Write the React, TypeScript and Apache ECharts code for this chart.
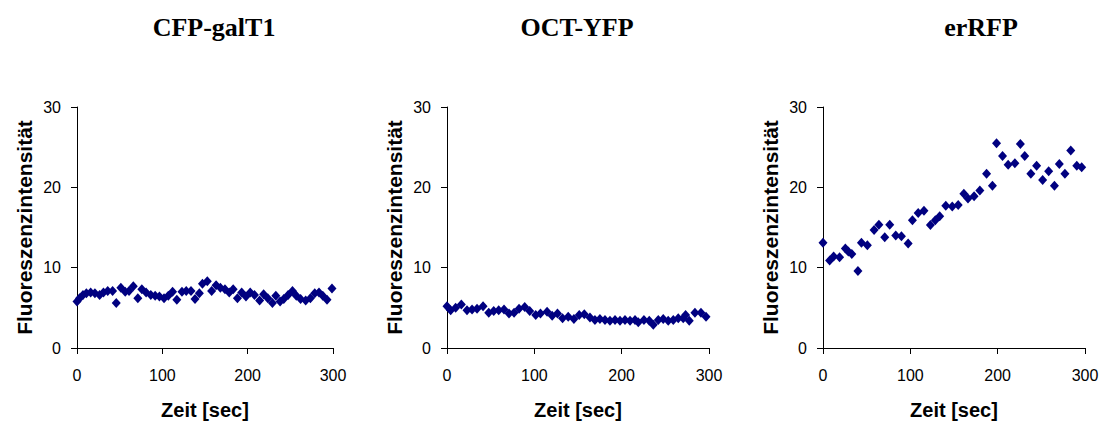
import React, { useEffect, useRef } from "react";
import * as echarts from "echarts";

const titles = ["CFP-galT1", "OCT-YFP", "erRFP"];
const xName = "Zeit [sec]";
const yName = "Fluoreszenzintensität";

const cfpX = [0, 3, 7, 11, 16, 21, 26.5, 31, 36, 41.7, 46, 51.4, 56.5, 61, 66, 71.3, 76, 81, 86.5, 91.6, 96.6, 102, 107, 112, 117, 123, 128, 133.6, 138.3, 143.4, 147, 152.7, 157.8, 163, 168, 173.4, 178.4, 183, 188, 193, 198, 203, 208, 214, 218.7, 223.6, 229, 233, 238, 242.3, 247.4, 252.5, 257, 262, 268, 273.5, 278.6, 283.6, 288, 293, 298.8];
const cfpY = [5.8, 6.2, 6.6, 6.8, 6.9, 6.8, 6.6, 6.9, 7.1, 7.1, 5.6, 7.5, 7.0, 7.1, 7.7, 6.2, 7.3, 6.9, 6.6, 6.5, 6.4, 6.2, 6.5, 7.0, 6.0, 7.0, 7.1, 7.1, 6.1, 6.8, 8.0, 8.3, 7.1, 7.8, 7.5, 7.3, 6.9, 7.3, 6.2, 6.9, 6.4, 6.9, 6.6, 5.9, 6.7, 6.2, 5.6, 6.5, 5.8, 6.1, 6.6, 7.1, 6.5, 6.1, 5.9, 6.2, 6.8, 6.9, 6.5, 6.0, 7.4];

const octX = [0, 4.2, 9.9, 16.4, 22.9, 28.7, 34.4, 41.3, 47.8, 53.5, 59.2, 65.3, 71, 76.8, 82.5, 89, 94.7, 101.6, 107, 114.6, 120.4, 126.5, 132.3, 138.8, 145.3, 151.4, 157.2, 163.7, 169.4, 175.1, 180.9, 186.6, 192.4, 198.1, 203.8, 209.6, 215.3, 219, 225.5, 231.6, 236.2, 241.9, 247.6, 253.3, 259.1, 264.8, 270.5, 273.2, 277.4, 283.9, 290.8, 296.6];
const octY = [5.2, 4.7, 5.0, 5.4, 4.7, 4.8, 4.9, 5.2, 4.4, 4.6, 4.7, 4.8, 4.3, 4.4, 4.9, 5.1, 4.6, 4.1, 4.3, 4.5, 4.0, 4.3, 3.7, 3.9, 3.6, 4.1, 4.2, 3.8, 3.5, 3.6, 3.5, 3.4, 3.5, 3.4, 3.5, 3.4, 3.5, 3.2, 3.5, 3.4, 2.9, 3.5, 3.6, 3.4, 3.5, 3.7, 3.7, 4.1, 3.4, 4.4, 4.4, 3.9];

const erX = [0, 7.6, 12.2, 19, 25.6, 29, 33, 40, 44, 50.8, 58.5, 64, 70.7, 76.4, 83.3, 89.8, 97.5, 102.4, 109, 115.6, 123, 128.6, 133.6, 140.6, 148, 154.8, 161.3, 166, 173, 179.6, 187.3, 194, 198.7, 205.6, 212, 219.7, 226, 231, 238, 244.6, 251.5, 258.4, 265, 270.6, 277, 283.7, 290.6, 296.2];
const erY = [13.1, 10.9, 11.4, 11.3, 12.4, 12.0, 11.7, 9.6, 13.1, 12.8, 14.7, 15.35, 13.8, 15.35, 14.0, 13.9, 13.0, 15.9, 16.8, 17.1, 15.3, 15.9, 16.4, 17.7, 17.6, 17.8, 19.2, 18.6, 18.9, 19.6, 21.7, 20.2, 25.5, 23.9, 22.8, 23.0, 25.4, 23.9, 21.7, 22.7, 20.9, 22.0, 20.2, 22.9, 21.7, 24.6, 22.7, 22.5];

const yMin = 0;
const yMax = 30;
const yStep = 10;
const xMin = 0;
const xMax = 300;
const xStep = 100;

const pairs = (xs: number[], ys: number[]) => xs.map((x, i) => [x, ys[i]]);

export default function App() {
  const ref = useRef<HTMLDivElement>(null);
  useEffect(() => {
    if (!ref.current) return;
    const chart = echarts.init(ref.current, null, { renderer: "svg" });
    const grids = [
      { left: 77, top: 107, width: 256, height: 243 },
      { left: 447, top: 107, width: 262, height: 244 },
      { left: 823, top: 107, width: 262, height: 244 },
    ];
    const titleX = [214, 577, 981];
    const sans = "'Liberation Sans', Arial, sans-serif";
    const datasets = [pairs(cfpX, cfpY), pairs(octX, octY), pairs(erX, erY)];
    const axisLine = { show: true, lineStyle: { color: "#000", width: 1 } };
    const axisTick = { show: true, inside: false, length: 6, lineStyle: { color: "#000" } };
    chart.setOption({
      animation: false,
      backgroundColor: "#fff",
      grid: grids.map((g) => ({ ...g, containLabel: false })),
      graphic: titles.map((t, i) => ({
        type: "text",
        x: titleX[i],
        y: 27,
        style: {
          text: t,
          font: "bold 26px 'Liberation Serif', 'Times New Roman', serif",
          fill: "#000",
          textAlign: "center",
          textVerticalAlign: "middle",
        },
      })),
      xAxis: grids.map((_, i) => ({
        type: "value",
        gridIndex: i,
        min: xMin,
        max: xMax,
        interval: xStep,
        name: xName,
        nameLocation: "middle",
        nameGap: 52,
        nameTextStyle: { fontFamily: sans, fontWeight: "bold", fontSize: 20, color: "#000" },
        axisLine,
        axisTick,
        splitLine: { show: false },
        axisLabel: { margin: 19, fontFamily: sans, fontSize: 16, color: "#000" },
      })),
      yAxis: grids.map((_, i) => ({
        type: "value",
        gridIndex: i,
        min: yMin,
        max: yMax,
        interval: yStep,
        name: yName,
        nameLocation: "middle",
        nameGap: 42,
        nameTextStyle: { fontFamily: sans, fontWeight: "bold", fontSize: 21, color: "#000" },
        axisLine,
        axisTick,
        splitLine: { show: false },
        axisLabel: { margin: 16, fontFamily: sans, fontSize: 16, color: "#000" },
      })),
      series: datasets.map((d, i) => ({
        type: "scatter",
        xAxisIndex: i,
        yAxisIndex: i,
        data: d,
        symbol: "diamond",
        symbolSize: [9, 10],
        itemStyle: { color: "#000080", opacity: 1 },
      })),
    });
    return () => chart.dispose();
  }, []);
  return (
    <div
      ref={ref}
      style={{ position: "fixed", left: 0, top: 0, width: 1104, height: 425, background: "#fff" }}
    />
  );
}
